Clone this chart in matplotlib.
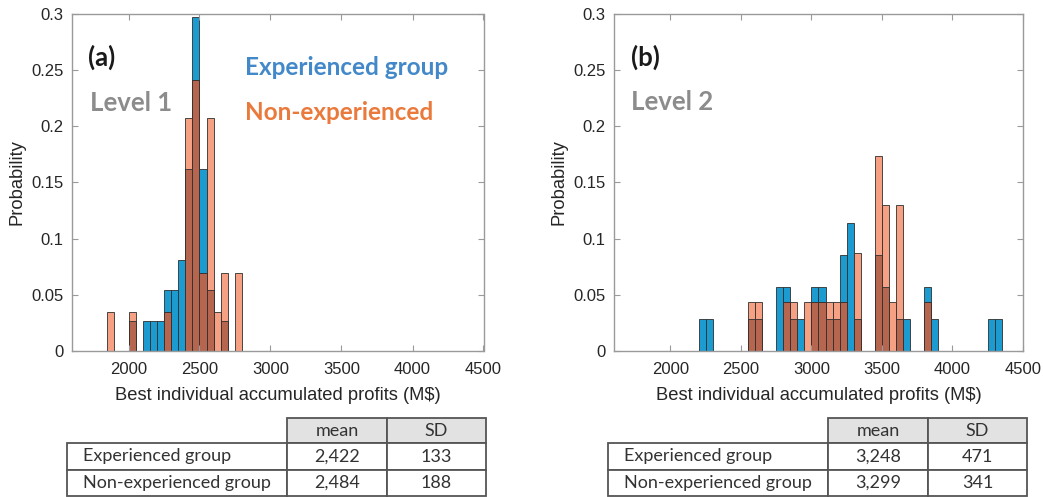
import numpy as np
import matplotlib
matplotlib.use("Agg")
import matplotlib.pyplot as plt
from matplotlib.patches import Rectangle

plt.rcParams['font.family'] = ['Liberation Sans', 'DejaVu Sans']

# data ------------------------------------------------------------------
bin_width = 50

# Level 1 (probability per 50 M$ bin, left edge of bin)
a_exp_bins = [2000, 2100, 2150, 2200, 2250, 2300, 2350, 2400, 2450, 2500, 2550, 2650]
a_exp_prob = [0.027, 0.027, 0.027, 0.027, 0.054, 0.054, 0.081, 0.162, 0.297, 0.162, 0.054, 0.027]
a_non_bins = [1850, 2000, 2250, 2400, 2450, 2500, 2550, 2600, 2650, 2750]
a_non_prob = [0.0345, 0.0345, 0.0345, 0.207, 0.241, 0.069, 0.207, 0.0345, 0.069, 0.069]

# Level 2
b_exp_bins = [2200, 2250, 2550, 2600, 2750, 2800, 2850, 2900, 3000, 3050, 3100, 3150,
              3200, 3250, 3300, 3450, 3500, 3600, 3650, 3800, 3850, 4250, 4300]
b_exp_prob = [0.0286, 0.0286, 0.0286, 0.0286, 0.0571, 0.0571, 0.0286, 0.0286, 0.0571, 0.0571,
              0.0286, 0.0286, 0.0857, 0.114, 0.0286, 0.0857, 0.0571, 0.0286, 0.0286, 0.0571,
              0.0286, 0.0286, 0.0286]
b_non_bins = [2550, 2600, 2800, 2850, 2950, 3000, 3050, 3100, 3150, 3200, 3300, 3450,
              3500, 3550, 3600, 3800]
b_non_prob = [0.0435, 0.0435, 0.0435, 0.0435, 0.0435, 0.0435, 0.0435, 0.0435, 0.0435, 0.0435,
              0.087, 0.174, 0.13, 0.0435, 0.13, 0.0435]

# summary tables
groups = ["Experienced group", "Non-experienced group"]
stat_cols = ["mean", "SD"]
a_mean = ["2,422", "2,484"]
a_sd = ["133", "188"]
b_mean = ["3,248", "3,299"]
b_sd = ["471", "341"]

yticks = [0, 0.05, 0.1, 0.15, 0.2, 0.25, 0.3]
ytick_labels = ["0", "0.05", "0.1", "0.15", "0.2", "0.25", "0.3"]
xticks = [2000, 2500, 3000, 3500, 4000, 4500]

BLUE = "#1c9bd0"
SALMON = "#f6a183"
BROWN = "#b6664f"
EDGE = "#2e2e2e"
SPINE = "#9a9a9a"
TXT = "#262626"
ANNOT = ["Lato", "DejaVu Sans"]


def draw_hist(ax, exp_bins, exp_prob, non_bins, non_prob):
    ax.bar(exp_bins, exp_prob, width=bin_width, align='edge', color=BLUE,
           edgecolor=EDGE, linewidth=0.6)
    ax.bar(non_bins, non_prob, width=bin_width, align='edge', color=SALMON,
           edgecolor=EDGE, linewidth=0.6)
    # overlap of the two histograms
    exp = dict(zip(exp_bins, exp_prob))
    non = dict(zip(non_bins, non_prob))
    both = [b for b in non_bins if b in exp]
    low = [min(exp[b], non[b]) for b in both]
    ax.bar(both, low, width=bin_width, align='edge', color=BROWN,
           edgecolor=EDGE, linewidth=0.6)

    ax.set_xlim(1600, 4500)
    ax.set_ylim(0, 0.3)
    ax.set_xticks(xticks)
    ax.set_yticks(yticks)
    ax.set_yticklabels(ytick_labels)
    ax.tick_params(direction='in', top=True, right=True, length=4, width=0.8,
                   color=SPINE, labelcolor=TXT, labelsize=12, pad=6)
    ax.tick_params(axis='x', pad=8)
    for s in ax.spines.values():
        s.set_color(SPINE)
        s.set_linewidth(1.0)
    ax.set_xlabel("Best individual accumulated profits (M\\$)", fontsize=13.2, color=TXT, labelpad=7)
    ax.set_ylabel("Probability", fontsize=13.2, color=TXT, labelpad=4)


def draw_table(ax, mean, sd):
    ax.set_xlim(0, 419)
    ax.set_ylim(78, 0)
    ax.axis('off')
    cols = [0, 220, 320, 419]
    rows = [0, 25, 52, 78]
    lc = "#555555"
    fs = 13
    for j, name in enumerate(stat_cols):
        ax.add_patch(Rectangle((cols[j + 1], rows[0]), cols[j + 2] - cols[j + 1], rows[1] - rows[0],
                               facecolor="#e2e2e2", edgecolor=lc, linewidth=1.3, clip_on=False))
        ax.text((cols[j + 1] + cols[j + 2]) / 2, (rows[0] + rows[1]) / 2, name,
                ha='center', va='center', fontsize=fs, color="#333333", family=ANNOT)
    for i, g in enumerate(groups):
        vals = [g, mean[i], sd[i]]
        for j in range(3):
            ax.add_patch(Rectangle((cols[j], rows[i + 1]), cols[j + 1] - cols[j], rows[i + 2] - rows[i + 1],
                                   facecolor="white", edgecolor=lc, linewidth=1.3, clip_on=False))
            if j == 0:
                ax.text(cols[0] + 16, (rows[i + 1] + rows[i + 2]) / 2, vals[j],
                        ha='left', va='center', fontsize=fs, color="#333333", family=ANNOT)
            else:
                ax.text((cols[j] + cols[j + 1]) / 2, (rows[i + 1] + rows[i + 2]) / 2, vals[j],
                        ha='center', va='center', fontsize=fs, color="#333333", family=ANNOT)


W, H = 1043, 497
fig = plt.figure(figsize=(W / 100, H / 100), dpi=100)
ax_a = fig.add_axes([71.7 / W, 146 / H, 411.8 / W, 337 / H])
ax_b = fig.add_axes([614 / W, 146 / H, 409 / W, 337 / H])

draw_hist(ax_a, a_exp_bins, a_exp_prob, a_non_bins, a_non_prob)
draw_hist(ax_b, b_exp_bins, b_exp_prob, b_non_bins, b_non_prob)

# panel annotations
ax_a.text(0.040, 0.872, "(a)", transform=ax_a.transAxes, fontsize=18.5, fontweight='bold',
          color="#1a1a1a", va='center', family=ANNOT)
ax_a.text(0.044, 0.736, "Level 1", transform=ax_a.transAxes, fontsize=18.5, fontweight='bold',
          color="#8c8c8c", va='center', family=ANNOT)
ax_a.text(0.421, 0.840, "Experienced group", transform=ax_a.transAxes, fontsize=17.5, fontweight='bold',
          color="#4388c8", va='center', family=ANNOT)
ax_a.text(0.421, 0.709, "Non-experienced", transform=ax_a.transAxes, fontsize=17.5, fontweight='bold',
          color="#ea7a3c", va='center', family=ANNOT)
ax_b.text(0.041, 0.872, "(b)", transform=ax_b.transAxes, fontsize=18.5, fontweight='bold',
          color="#1a1a1a", va='center', family=ANNOT)
ax_b.text(0.041, 0.739, "Level 2", transform=ax_b.transAxes, fontsize=18.5, fontweight='bold',
          color="#8c8c8c", va='center', family=ANNOT)

# tables
tab_a = fig.add_axes([67 / W, 1 / H, 419 / W, 78 / H])
draw_table(tab_a, a_mean, a_sd)
tab_b = fig.add_axes([608 / W, 1 / H, 419 / W, 78 / H])
draw_table(tab_b, b_mean, b_sd)

fig.savefig("out.png", dpi=100)
